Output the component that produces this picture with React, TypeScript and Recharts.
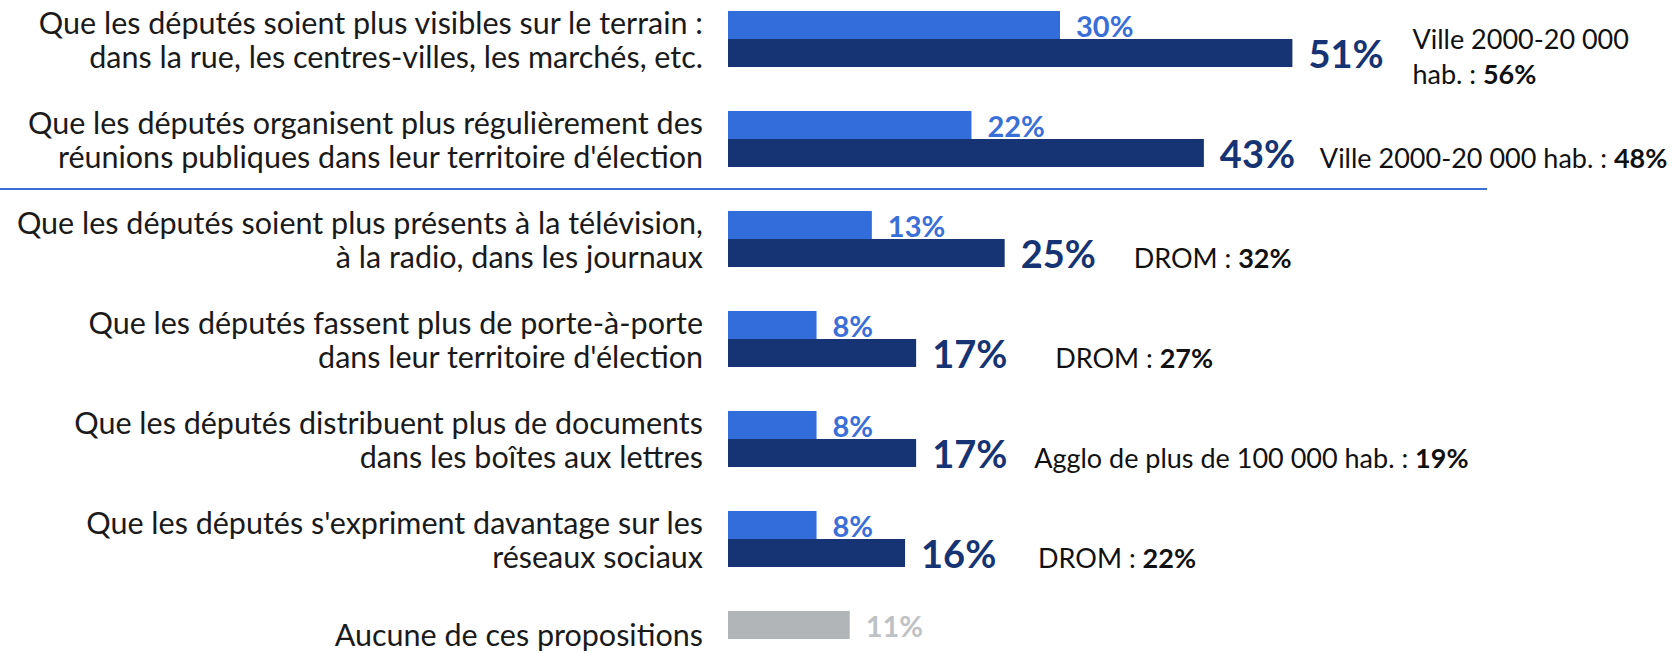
import { Bar, BarChart, Cell, LabelList, XAxis, YAxis } from 'recharts';

const categories = [
  'Que les députés soient plus visibles sur le terrain :\ndans la rue, les centres-villes, les marchés, etc.',
  "Que les députés organisent plus régulièrement des\nréunions publiques dans leur territoire d'élection",
  'Que les députés soient plus présents à la télévision,\nà la radio, dans les journaux',
  "Que les députés fassent plus de porte-à-porte\ndans leur territoire d'élection",
  'Que les députés distribuent plus de documents\ndans les boîtes aux lettres',
  "Que les députés s'expriment davantage sur les\nréseaux sociaux",
  'Aucune de ces propositions',
];
const firstChoice = [30, 22, 13, 8, 8, 8, 11];
const total = [51, 43, 25, 17, 17, 16, null];
const noteLabels = [
  'Ville 2000-20 000\nhab. :',
  'Ville 2000-20 000 hab. :',
  'DROM :',
  'DROM :',
  'Agglo de plus de 100 000 hab. :',
  'DROM :',
  '',
];
const noteValues = [56, 48, 32, 27, 19, 22, null];

// layout only
const noteGap = [120, 116, 129, 139, 118, 133, 0];
const LIGHT = '#336ddc';
const DARK = '#163473';
const GREY = '#b2b5b7';
const FONT = 'Lato, "Open Sans", sans-serif';

const data = categories.map((name, i) => ({
  name,
  first: firstChoice[i],
  total: total[i],
  note: noteLabels[i],
  noteValue: noteValues[i],
}));

function box(props: any) {
  const vb = props.viewBox ?? {};
  return {
    x: props.x ?? vb.x,
    y: props.y ?? vb.y,
    width: props.width ?? vb.width,
    height: props.height ?? vb.height,
  };
}

function CategoryTick(props: any) {
  const { y, payload, index } = props;
  const lines = String(payload.value).split('\n');
  const lh = 34;
  const y0 = lines.length > 1 ? y - ((lines.length - 1) * lh) / 2 : y - 5;
  return (
    <g>
      {index === 2 && (
        <line x1={0} x2={1487} y1={y - 50} y2={y - 50} stroke="#3a6fd8" strokeWidth={2} />
      )}
      <text textAnchor="end" fontFamily={FONT} fontSize={30.5} fill="#1a1a1a" dominantBaseline="central">
        {lines.map((l, i) => (
          <tspan key={i} x={703} y={y0 + i * lh}>
            {l}
          </tspan>
        ))}
      </text>
    </g>
  );
}

function FirstLabel(props: any) {
  const { value, index } = props;
  if (value == null) return null;
  const b = box(props);
  return (
    <text
      x={b.x + b.width + 16}
      y={b.y + b.height - 2}
      fontFamily={FONT}
      fontWeight="bold"
      fontSize={29}
      fill={index === 6 ? '#bfc2c5' : '#3a6fd8'}
    >
      {value}%
    </text>
  );
}

function TotalLabel(props: any) {
  const { value, index } = props;
  if (value == null) return null;
  const b = box(props);
  const endX = b.x + b.width;
  const row = data[index];
  const lines = row.note ? row.note.split('\n') : [];
  const lh = 35;
  const cy = b.y + b.height / 2 + (lines.length > 1 ? 2 : 4);
  const y0 = cy - ((lines.length - 1) * lh) / 2;
  return (
    <g>
      <text x={endX + 16} y={b.y + b.height + 1} fontFamily={FONT} fontWeight="bold" fontSize={38} fill={DARK}>
        {value}%
      </text>
      {lines.length > 0 && (
        <text fontFamily={FONT} fontSize={27} fill="#111" dominantBaseline="central">
          {lines.map((l, i) => (
            <tspan key={i} x={endX + noteGap[index]} y={y0 + i * lh}>
              {l}{' '}
              {i === lines.length - 1 && <tspan fontWeight="bold">{row.noteValue}%</tspan>}
            </tspan>
          ))}
        </text>
      )}
    </g>
  );
}

export default function App() {
  return (
    <div
      style={{
        position: 'absolute',
        left: 0,
        top: 0,
        width: 1672,
        height: 653,
        overflow: 'hidden',
        background: '#fff',
      }}
    >
      <div style={{ marginTop: -11 }}>
        <BarChart
          width={1672}
          height={700}
          data={data}
          layout="vertical"
          margin={{ top: 0, right: 280, bottom: 0, left: 0 }}
          barGap={0}
          barSize={28}
        >
          <XAxis type="number" domain={[0, 60]} hide />
          <YAxis
            type="category"
            dataKey="name"
            width={728}
            axisLine={false}
            tickLine={false}
            tick={<CategoryTick />}
            interval={0}
          />
          <Bar dataKey="first" fill={LIGHT} isAnimationActive={false}>
            {data.map((_, i) => (
              <Cell key={i} fill={i === 6 ? GREY : LIGHT} />
            ))}
            <LabelList dataKey="first" content={<FirstLabel />} />
          </Bar>
          <Bar dataKey="total" fill={DARK} isAnimationActive={false}>
            <LabelList dataKey="total" content={<TotalLabel />} />
          </Bar>
        </BarChart>
      </div>
    </div>
  );
}
